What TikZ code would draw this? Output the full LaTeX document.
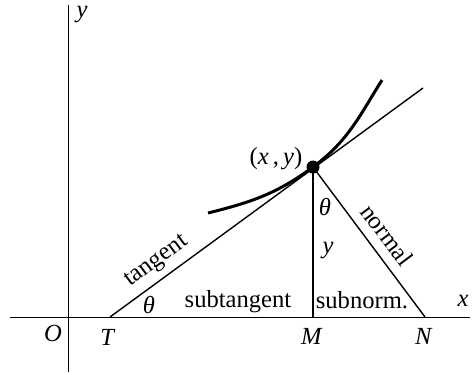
\documentclass[tikz,border=0pt]{standalone}
\usepackage{fontspec}
\setmainfont{Liberation Serif}
\usetikzlibrary{positioning}

\begin{document}
\begin{tikzpicture}[
  x=0.5pt, y=0.5pt,
  font=\fontsize{12.3}{14}\selectfont,
  axis/.style={draw=black, line width=0.5pt},
  rule/.style={draw=black, line width=0.7pt},
  curve/.style={draw=black, line width=1.5pt},
  lbl/.style={inner sep=0pt}
]
  \useasboundingbox (0,0) rectangle (476,372);
  % points
  \coordinate (xl) at (10,55);
  \coordinate (xr) at (470,55);
  \coordinate (yb) at (68,0);
  \coordinate (yt) at (68,367);
  \coordinate (T) at (110,55);
  \coordinate (P) at (313,205);
  \coordinate (M) at (313,55);
  \coordinate (N) at (425,55);
  \coordinate (tend) at (423,284);
  \coordinate (cl) at (208,159);
  \coordinate (ct) at (382,292);
  % axes
  \draw[axis] (xl) -- (xr);
  \draw[axis] (yb) -- (yt);
  % tangent, ordinate, normal
  \draw[rule] (T) -- (tend);
  \draw[rule] (P) -- (M);
  \draw[rule] (P) -- (N);
  % curve
  \draw[curve] (cl) to[out=14,in=216.5] (P) to[out=36.5,in=238] (ct);
  \fill (P) circle (6.5);
  % labels
  \node[lbl] (ylab) at (82,357) {\textit{y}};
  \node[lbl] (xlab) at (463,71) {\textit{x}};
  \node[lbl] (olab) at (53,39) {\textit{O}};
  \node[lbl] (tlab) at (108,35) {\textit{T}};
  \node[lbl] (mlab) at (312,36) {\textit{M}};
  \node[lbl] (nlab) at (424,36) {\textit{N}};
  \node[lbl] (plab) at (276,213) {(\textit{x}\,,\,\textit{y})};
  \node[lbl] (th1) at (149,67) {\textit{θ}};
  \node[lbl] (th2) at (325,165) {\textit{θ}};
  \node[lbl] (ord) at (328,121) {\textit{y}};
  \node[lbl] (subt) at (238,70) {subtangent};
  \node[lbl] (subn) at (362,72) {subnorm.};
  \node[lbl, rotate=36.5] (tang) at (157,110) {tangent};
  \node[lbl, rotate=-53.3] (norm) at (387,137) {normal};
\end{tikzpicture}
\end{document}
